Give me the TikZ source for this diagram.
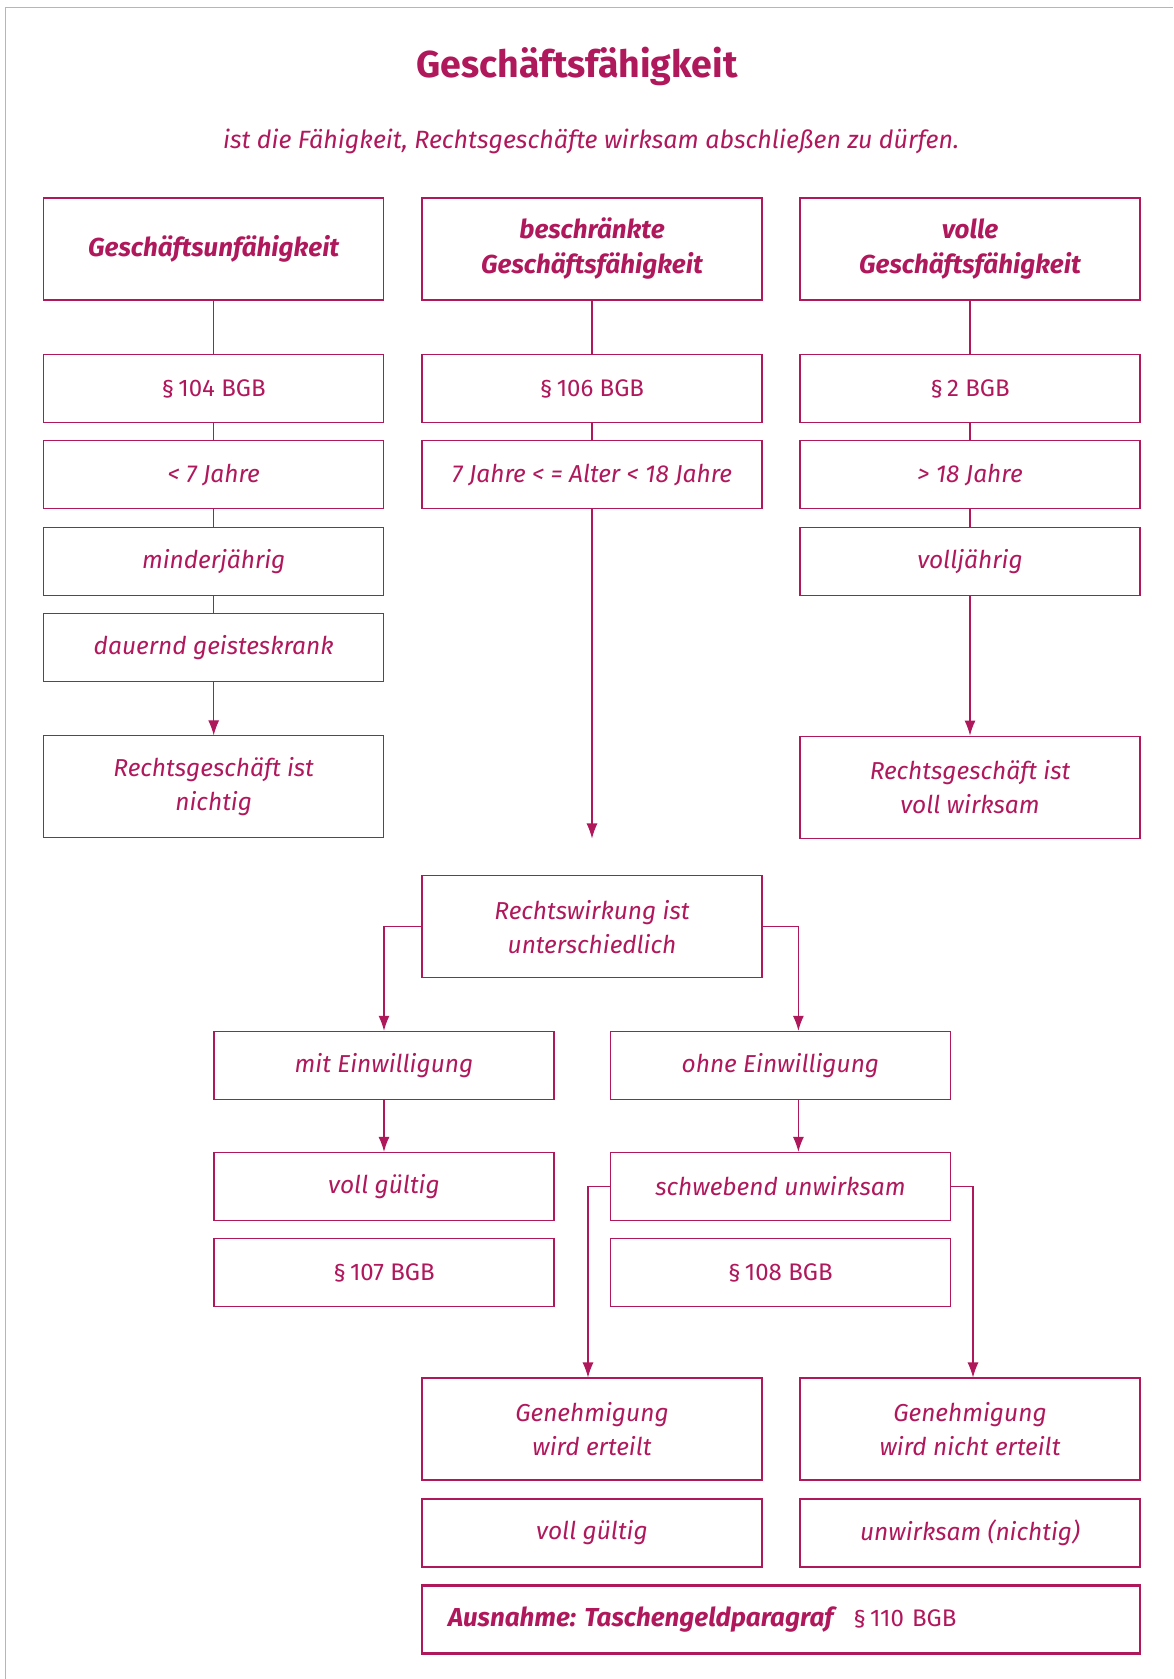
\documentclass[tikz,border=0pt]{standalone}
\usepackage{fontspec}
\setmainfont{Fira Sans}
\frenchspacing
\usepackage{tikz}
\usetikzlibrary{arrows.meta}
\definecolor{rechtrot}{RGB}{176,24,92}
\definecolor{rahmengrau}{RGB}{170,184,204}

\begin{document}
\begin{tikzpicture}[x=1pt,y=-1pt,->,>={Latex[length=15pt,width=11pt]},line width=1.1pt,color=rechtrot,node distance=86.3pt,
  main node/.style={rectangle,draw=rechtrot,line width=1.1pt,minimum width=340pt,minimum height=68pt,inner sep=0pt,align=center,font=\fontsize{24.5}{34}\selectfont\itshape},
  big node/.style={main node,minimum height=102pt},
  head node/.style={big node,font=\fontsize{26}{35}\selectfont\bfseries\itshape},
  para node/.style={main node,font=\fontsize{24}{34}\selectfont\upshape}]
  \useasboundingbox (0,0) rectangle (1173,1679);
  \draw[-,rahmengrau,line width=1.2pt] (5.5,1679) -- (5.5,7.5) -- (1173,7.5); % Seitenrand oben und links

  \node[font=\fontsize{37.5}{40}\selectfont\bfseries] (titel) at (577,66) {Geschäftsfähigkeit};
  \node[font=\fontsize{25}{28}\selectfont\itshape] (untertitel) at (591,141) {ist die Fähigkeit, Rechtsgeschäfte wirksam abschließen zu dürfen.};

  % Spalte links
  \node[head node] (gu) at (213.7,249) {Geschäftsunfähigkeit};
  \node[para node] (p104) [below of=gu,node distance=139.5pt] {§\,104 BGB};
  \node[main node] (u7) [below of=p104] {< 7 Jahre};
  \node[main node] (mj) [below of=u7] {minderjährig};
  \node[main node] (gk) [below of=mj] {dauernd geisteskrank};
  \node[big node] (nichtig) [below of=gk,node distance=139.5pt] {Rechtsgeschäft ist\\nichtig};

  % Spalte Mitte
  \node[head node] (bgf) at (592,249) {beschränkte\\Geschäftsfähigkeit};
  \node[para node] (p106) [below of=bgf,node distance=139.5pt] {§\,106 BGB};
  \node[main node] (alter) [below of=p106] {7 Jahre < = Alter < 18 Jahre};
  \coordinate (frei) at (alter.south |- nichtig.south);

  % Spalte rechts
  \node[head node] (vgf) at (970,249) {volle\\Geschäftsfähigkeit};
  \node[para node] (p2) [below of=vgf,node distance=139.5pt] {§\,2 BGB};
  \node[main node] (ue18) [below of=p2] {> 18 Jahre};
  \node[main node] (vj) [below of=ue18] {volljährig};
  \node[big node] (wirksam) [below of=vj,node distance=226pt] {Rechtsgeschäft ist\\voll wirksam};

  % beschraenkte Geschaeftsfaehigkeit im Einzelnen
  \node[big node] (rw) at (592,926.6) {Rechtswirkung ist\\unterschiedlich};
  \node[main node] (mit) at (384,1065.3) {mit Einwilligung};
  \node[main node] (vg1) [below of=mit,node distance=121.1pt] {voll gültig};
  \node[para node] (p107) [below of=vg1] {§\,107 BGB};
  \node[main node] (ohne) at (780.4,1065.3) {ohne Einwilligung};
  \node[main node] (schw) [below of=ohne,node distance=121.1pt] {schwebend unwirksam};
  \node[para node] (p108) [below of=schw] {§\,108 BGB};
  \node[big node] (gen1) at (592,1429) {Genehmigung\\wird erteilt};
  \node[main node] (vg2) [below of=gen1,node distance=104pt] {voll gültig};
  \node[big node] (gen2) at (970,1429) {Genehmigung\\wird nicht erteilt};
  \node[main node] (unw) [below of=gen2,node distance=104pt] {unwirksam (nichtig)};

  \node[main node,line width=2.6pt,minimum width=718pt,text width=666pt,inner xsep=26pt,align=left] (ausnahme) at (781,1619.7)
    {{\fontsize{26}{34}\selectfont\bfseries Ausnahme: Taschengeldparagraf}\hspace{20pt}{\fontsize{24}{34}\selectfont\upshape §\,110 BGB}};

  \path (gu) edge[-] (p104)
    (p104) edge[-] (u7)
    (u7) edge[-] (mj)
    (mj) edge[-] (gk)
    (gk) edge (nichtig)
    (bgf) edge[-] (p106)
    (p106) edge[-] (alter)
    (alter) edge (frei)
    (vgf) edge[-] (p2)
    (p2) edge[-] (ue18)
    (ue18) edge[-] (vj)
    (vj) edge (wirksam)
    (mit) edge (vg1)
    ([xshift=18pt]ohne.south) edge ([xshift=18pt]schw.north);
  \draw (rw.west) -| (mit.north);
  \draw (rw.east) -| ([xshift=18pt]ohne.north);
  \draw (schw.west) -| ([xshift=-4pt]gen1.north);
  \draw (schw.east) -| ([xshift=3pt]gen2.north);
\end{tikzpicture}
\end{document}
